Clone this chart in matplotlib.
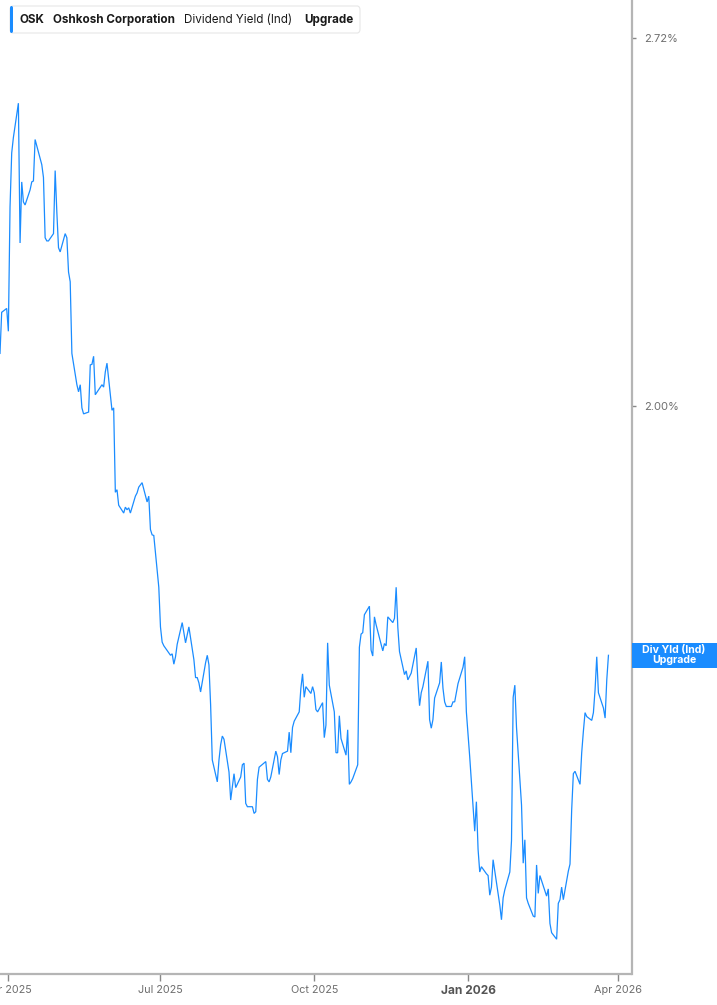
import matplotlib
matplotlib.use("Agg")
import matplotlib.pyplot as plt
import matplotlib.dates as mdates
from matplotlib.patches import Rectangle, FancyBboxPatch
from matplotlib.transforms import IdentityTransform
import pandas as pd
import numpy as np

plt.rcParams['font.family'] = ['Inter', 'DejaVu Sans']

# ---------------- data ----------------
START = "2025-03-27"
END = "2026-03-27"
HOLIDAYS = ["2025-04-18", "2025-05-26", "2025-06-19", "2025-07-04", "2025-09-01",
            "2025-11-27", "2025-12-25", "2026-01-01", "2026-01-19", "2026-02-16"]

div_yield = [
    2.090, 2.163, 2.170, 2.129, 2.362, 2.471, 2.503, 2.576, 2.292, 2.412,
    2.372, 2.366, 2.396, 2.412, 2.414, 2.499, 2.447, 2.421, 2.302, 2.296,
    2.296, 2.310, 2.435, 2.352, 2.283, 2.275, 2.310, 2.302, 2.237, 2.219,
    2.090, 2.036, 2.024, 2.036, 1.997, 1.987, 1.990, 2.070, 2.071, 2.085,
    2.019, 2.036, 2.032, 2.058, 2.073, 1.993, 1.997, 1.861, 1.865, 1.841,
    1.829, 1.838, 1.834, 1.837, 1.829, 1.855, 1.860, 1.869, 1.876, 1.846,
    1.855, 1.804, 1.796, 1.795, 1.719, 1.663, 1.642, 1.637, 1.624, 1.626,
    1.612, 1.622, 1.639, 1.669, 1.655, 1.641, 1.652, 1.663, 1.618, 1.594,
    1.594, 1.587, 1.575, 1.614, 1.624, 1.611, 1.558, 1.488, 1.461, 1.488,
    1.507, 1.518, 1.514, 1.473, 1.439, 1.455, 1.471, 1.454, 1.467, 1.482,
    1.484, 1.435, 1.431, 1.431, 1.423, 1.425, 1.464, 1.479, 1.486, 1.464,
    1.461, 1.467, 1.499, 1.492, 1.470, 1.488, 1.496, 1.499, 1.523, 1.497,
    1.529, 1.537, 1.549, 1.580, 1.599, 1.568, 1.582, 1.573, 1.582, 1.574,
    1.552, 1.549, 1.561, 1.516, 1.532, 1.641, 1.584, 1.549, 1.497, 1.497,
    1.544, 1.515, 1.494, 1.526, 1.458, 1.461, 1.465, 1.482, 1.635, 1.653,
    1.655, 1.680, 1.692, 1.631, 1.623, 1.677, 1.666, 1.639, 1.630, 1.640,
    1.637, 1.677, 1.669, 1.675, 1.719, 1.662, 1.629, 1.598, 1.603, 1.591,
    1.600, 1.634, 1.589, 1.557, 1.574, 1.582, 1.616, 1.539, 1.528, 1.539,
    1.567, 1.587, 1.615, 1.580, 1.562, 1.556, 1.556, 1.562, 1.562, 1.586,
    1.608, 1.622, 1.549, 1.492, 1.402, 1.437, 1.381, 1.355, 1.361, 1.353,
    1.351, 1.329, 1.338, 1.369, 1.318, 1.302, 1.326, 1.335, 1.355, 1.391,
    1.568, 1.584, 1.529, 1.433, 1.365, 1.392, 1.326, 1.320, 1.306, 1.305,
    1.363, 1.331, 1.351, 1.328, 1.336, 1.298, 1.288, 1.281, 1.320, 1.324,
    1.338, 1.324, 1.356, 1.364, 1.427, 1.471, 1.474, 1.458, 1.497, 1.524,
    1.548, 1.543, 1.538, 1.548, 1.578, 1.622, 1.574, 1.554, 1.541, 1.591,
    1.624,
]

x_tick_dates = ["2025-04-01", "2025-07-01", "2025-10-01", "2026-01-01", "2026-04-01"]
x_tick_labels = ["Apr 2025", "Jul 2025", "Oct 2025", "Jan 2026", "Apr 2026"]
y_ticks = [2.00, 2.72]
y_tick_labels = ["2.00%", "2.72%"]

legend_parts = ["OSK", "Oshkosh Corporation", "Dividend Yield (Ind)", "Upgrade"]
end_label = "Div Yld (Ind)\nUpgrade"

dates = pd.bdate_range(START, END, freq="C", holidays=HOLIDAYS)
n = min(len(dates), len(div_yield))
dates = dates[:n]
vals = np.array(div_yield[:n])

# ---------------- figure ----------------
W, H = 717, 1005
DPI = 100
BLUE = "#1a8cff"
GREY_AX = "#b5b5b5"
TXT = "#6e6e6e"

fig = plt.figure(figsize=(W / DPI, H / DPI), dpi=DPI)
fig.patch.set_facecolor("white")
ax_left, ax_right = 0.0, 631.5 / W
ax_bottom, ax_top = (H - 974) / H, 1.0
ax = fig.add_axes([ax_left, ax_bottom, ax_right - ax_left, ax_top - ax_bottom])

ax.plot(dates, vals, color=BLUE, lw=0.9, solid_joinstyle="miter")

ax.set_yscale("log")
ax.set_ylim(1.2443, 2.808)
ax.set_xlim(pd.Timestamp("2025-03-27"), pd.Timestamp("2026-04-08 19:00"))

# spines
for s in ["top", "left"]:
    ax.spines[s].set_visible(False)
for s in ["right", "bottom"]:
    ax.spines[s].set_color(GREY_AX)
    ax.spines[s].set_linewidth(1.6)

# y axis on the right
ax.yaxis.tick_right()
ax.yaxis.set_minor_locator(matplotlib.ticker.NullLocator())
ax.set_yticks(y_ticks)
ax.set_yticklabels(y_tick_labels)
ax.tick_params(axis="y", which="major", direction="out", length=3, width=1,
               color="#888888", pad=6, labelsize=8, labelcolor=TXT)

# x axis
ax.set_xticks([pd.Timestamp(d) for d in x_tick_dates])
ax.set_xticklabels(x_tick_labels)
ax.xaxis.set_minor_locator(matplotlib.ticker.NullLocator())
ax.tick_params(axis="x", which="major", direction="out", length=5, width=1,
               color="#888888", pad=3, labelsize=7.8, labelcolor=TXT)
for lbl in ax.get_xticklabels():
    if lbl.get_text().startswith("Jan"):
        lbl.set_fontweight("bold")
        lbl.set_color("#555555")
        lbl.set_fontsize(8.6)

# ---------------- end-value label box ----------------
last_px = ax.transData.transform((mdates.date2num(dates[-1]), vals[-1]))[1]
box_h = 25
rect = Rectangle((631.5, last_px - box_h / 2), W - 631.5, box_h,
                 transform=IdentityTransform(), facecolor=BLUE, edgecolor="none",
                 zorder=5, clip_on=False)
fig.add_artist(rect)
fig.text(674 / W, last_px / H, end_label, ha="center", va="center",
         color="white", fontsize=7.6, fontweight="bold", linespacing=0.95,
         zorder=6)

# ---------------- legend header ----------------
box = FancyBboxPatch((10 / W, 1 - 33 / H), 350 / W, 27 / H,
                     boxstyle="round,pad=0,rounding_size=0.004",
                     transform=fig.transFigure, facecolor="white",
                     edgecolor="#e6e6e6", linewidth=0.8, zorder=7)
fig.add_artist(box)
bar = FancyBboxPatch((10 / W, 1 - 33 / H), 3 / W, 27 / H,
                     boxstyle="round,pad=0,rounding_size=0.002",
                     transform=fig.transFigure, facecolor=BLUE,
                     edgecolor="none", zorder=8)
fig.add_artist(bar)

leg_x = [20, 53, 184, 304]
leg_w = ["bold", "bold", "normal", "bold"]
for txt, xp, fw in zip(legend_parts, leg_x, leg_w):
    fig.text(xp / W, 1 - 20 / H, txt, ha="left", va="center", fontsize=8.4,
             fontweight=fw, color="#1a1a1a", zorder=9)

fig.savefig("out.png", dpi=DPI, facecolor="white")
